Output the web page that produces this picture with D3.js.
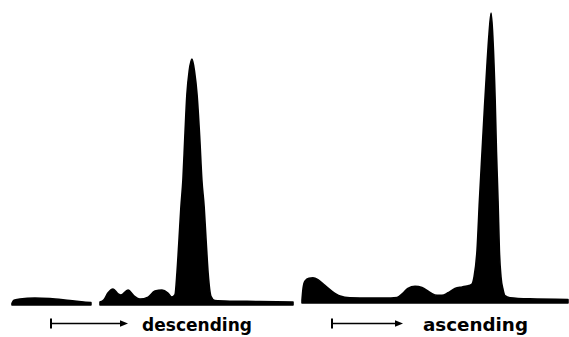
<!DOCTYPE html>
<html>
<head>
<meta charset="utf-8">
<script src="https://cdn.jsdelivr.net/npm/d3@7"></script>
<style>
  html, body { margin: 0; padding: 0; background: #fff; }
  svg { display: block; }
</style>
</head>
<body>
<div class="result"></div>
<script>
// Elution position (0-100 per run) and detector response (0-100, tallest peak = 100)
const descBlobX = [0.7, 1.4, 3.5, 8.8, 14.1, 21.2, 28.6];
const descBlobY = [0.6, 1.6, 2.0, 2.4, 2.2, 1.5, 0.8];

const descX = [31.8, 33.2, 34.6, 36.4, 38.2, 39.2, 41.7, 43.8, 45.9, 48.8, 51.2, 53.7, 55.8, 57.2,
  58.3, 59.0, 59.7, 60.4, 61.1, 61.8, 62.5, 63.3, 64.3, 65.2, 66.1, 67.0, 67.8, 68.6, 69.3, 70.0,
  71.0, 72.4, 77.7, 88.3, 100];
const descY = [1.0, 1.8, 4.1, 5.5, 3.8, 3.4, 5.1, 3.1, 2.0, 2.7, 4.8, 5.1, 4.1, 2.7,
  3.5, 11, 22, 33.6, 42.8, 58, 72, 80, 84.2, 80, 72, 58, 42.8, 33.6, 22, 11,
  3.0, 1.5, 1.3, 1.2, 1.0];

const ascX = [0, 0.4, 1.1, 2.6, 4.1, 6.0, 8.6, 11.3, 14.3, 18.0, 25.6, 31.2, 35.7, 38.0, 39.8, 42.5,
  45.1, 48.1, 50.8, 52.6, 54.9, 57.5, 60.2, 62.0, 63.9, 64.7, 65.8, 66.7, 67.7, 68.6, 69.5, 70.3,
  71.1, 71.8, 72.6, 73.1, 73.7, 74.2, 74.8, 75.6, 76.3, 78.2, 85.7, 100];
const ascY = [1.0, 5.0, 7.5, 8.5, 8.6, 8.0, 6.0, 4.0, 2.4, 1.8, 1.7, 1.7, 1.9, 3.4, 5.0, 5.7,
  5.3, 3.6, 2.6, 2.6, 3.5, 5.0, 5.5, 5.8, 6.5, 9, 18, 35, 52, 67, 81, 92,
  99.3, 90, 70, 52, 35, 18, 9, 4.5, 2.5, 1.8, 1.4, 1.2];

const labels = ['descending', 'ascending'];

const w = 569;
const h = 337;

const svg = d3.select('.result')
  .append('svg')
  .attr('width', w)
  .attr('height', h);

// Scales
const yScale = d3.scaleLinear().domain([0, 100]).range([305, 13]);
const xDesc = d3.scaleLinear().domain([0, 100]).range([10, 293]);
const xAsc = d3.scaleLinear().domain([0, 100]).range([302, 568]);

function drawTrace(g, xs, ys, xScale) {
  const pts = xs.map((x, i) => [x, ys[i]]);
  const area = d3.area()
    .x(d => xScale(d[0]))
    .y0(yScale(0))
    .y1(d => yScale(d[1]))
    .curve(d3.curveMonotoneX);
  g.append('path')
    .datum(pts)
    .attr('d', area)
    .attr('fill', '#000')
    .attr('stroke', '#000')
    .attr('stroke-width', 1.6)
    .attr('stroke-linejoin', 'round');
}

const gDesc = svg.append('g');
drawTrace(gDesc, descBlobX, descBlobY, xDesc);
drawTrace(gDesc, descX, descY, xDesc);

const gAsc = svg.append('g').attr('transform', 'translate(0,-2)');
drawTrace(gAsc, ascX, ascY, xAsc);

// Direction arrows and labels
function drawArrow(x0, x1, y) {
  svg.append('line')
    .attr('x1', x0).attr('x2', x0)
    .attr('y1', y - 5).attr('y2', y + 5)
    .attr('stroke', '#000').attr('stroke-width', 2);
  svg.append('line')
    .attr('x1', x0).attr('x2', x1 - 5)
    .attr('y1', y).attr('y2', y)
    .attr('stroke', '#000').attr('stroke-width', 1.6);
  svg.append('path')
    .attr('d', `M${x1},${y} L${x1 - 8},${y - 3.2} L${x1 - 8},${y + 3.2} Z`)
    .attr('fill', '#000');
}

drawArrow(51, 128, 323.5);
drawArrow(332, 403, 323.5);

svg.append('text')
  .attr('x', 142).attr('y', 331)
  .attr('textLength', 110)
  .attr('lengthAdjust', 'spacingAndGlyphs')
  .style('font-family', '"DejaVu Sans", sans-serif')
  .style('font-weight', 'bold')
  .style('font-size', '17px')
  .text(labels[0]);

svg.append('text')
  .attr('x', 423).attr('y', 331)
  .attr('textLength', 105)
  .attr('lengthAdjust', 'spacingAndGlyphs')
  .style('font-family', '"DejaVu Sans", sans-serif')
  .style('font-weight', 'bold')
  .style('font-size', '17px')
  .text(labels[1]);
</script>
</body>
</html>
